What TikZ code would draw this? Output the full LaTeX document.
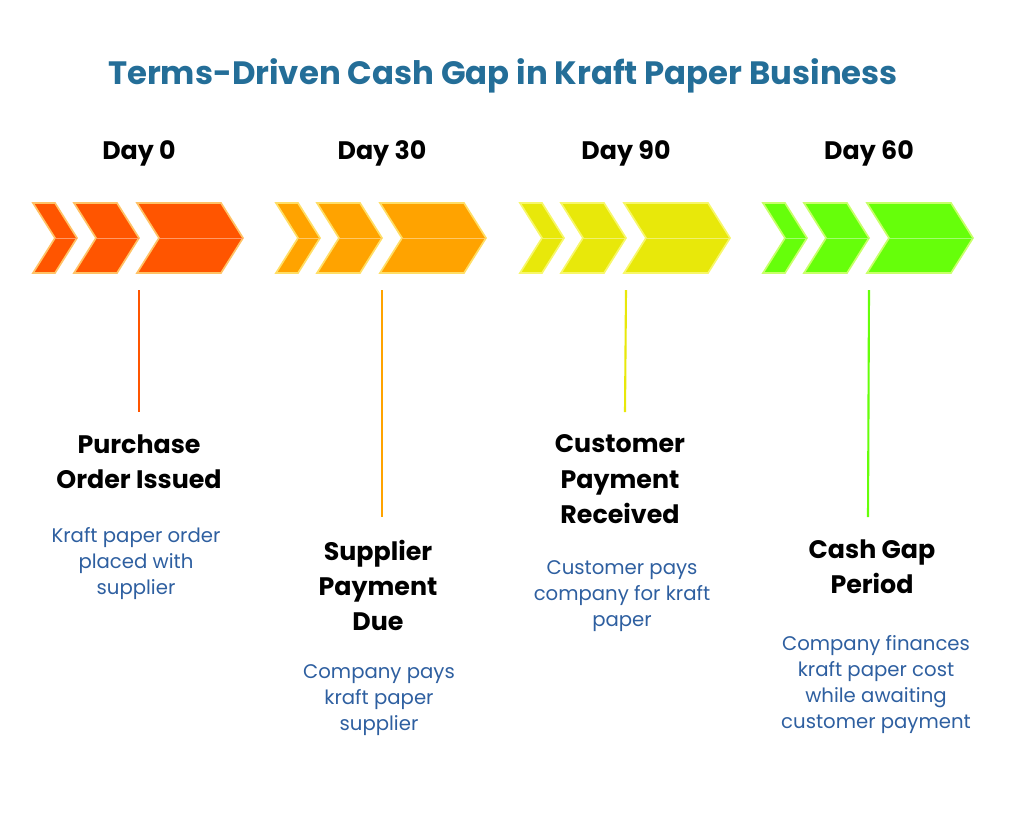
\documentclass[tikz,border=0pt]{standalone}
\usepackage{fontspec}
\setmainfont{Poppins}
\usetikzlibrary{positioning,calc}
\definecolor{titleblue}{HTML}{246E98}
\definecolor{bodyblue}{HTML}{2E5FA0}
\definecolor{cA}{HTML}{FF5500}
\definecolor{cB}{HTML}{FFA300}
\definecolor{cC}{HTML}{E8E80A}
\definecolor{cD}{HTML}{66FF0A}
\tikzset{
  head/.style={font=\bfseries\fontsize{18}{25}\selectfont, align=center, anchor=north},
  body/.style={font=\fontsize{14}{18.5}\selectfont, text=bodyblue, align=center, anchor=north},
  chev/.style={line width=1.2pt, line join=miter},
}
\begin{document}
\begin{tikzpicture}[x=0.025cm,y=-0.025cm]
    \useasboundingbox (0,0) rectangle (1024,812);
    % title
    \node[font=\bfseries\fontsize{23}{28}\selectfont, text=titleblue] (title) at (503,76) {Terms-Driven Cash Gap in Kraft Paper Business};

    % chevron groups
    \foreach \gx/\col/\day/\n in {33/cA/Day 0/1, 276/cB/Day 30/2, 520/cC/Day 90/3, 763/cD/Day 60/4} {
        \node[font=\bfseries\fontsize{18}{22}\selectfont] (day\n) at (\gx+106,153) {\day};
        \foreach \a/\b in {0/22, 41/84, 104/188} {
            \filldraw[chev, fill=\col, draw=\col!60!yellow!60!white]
                (\gx+\a,203) -- (\gx+\b,203) -- (\gx+\b+22,238) -- (\gx+\b,273)
                -- (\gx+\a,273) -- (\gx+\a+22,238) -- cycle;
            \draw[\col!60!white, line width=0.6pt] (\gx+\a+22,238) -- (\gx+\b+22,238);
        }
        \coordinate (top\n) at (\gx+106,290);
    }

    % Day 0
    \node[head] (po) at (139,430) {Purchase\\Order Issued};
    \node[body] (pobody) at (136,522) {Kraft paper order\\placed with\\supplier};
    % Day 30
    \node[head] (sp) at (378,535) {Supplier\\Payment\\Due};
    \node[body] (spbody) at (379,660) {Company pays\\kraft paper\\supplier};
    % Day 90
    \node[head] (cp) at (620,430) {Customer\\Payment\\Received};
    \node[body] (cpbody) at (622,556) {Customer pays\\company for kraft\\paper};
    % Day 60
    \node[head] (cg) at (872,535) {Cash Gap\\Period};
    \node[body] (cgbody) at (876,630) {Company finances\\kraft paper cost\\while awaiting\\customer payment};

    % stems
    \draw[cA, line width=1.5pt] (top1) -- (139,412);
    \draw[cB, line width=1.5pt] (top2) -- (382,517);
    \draw[cC, line width=1.5pt] (top3) -- (625,412);
    \draw[cD, line width=1.5pt] (top4) -- (868,517);
\end{tikzpicture}
\end{document}
